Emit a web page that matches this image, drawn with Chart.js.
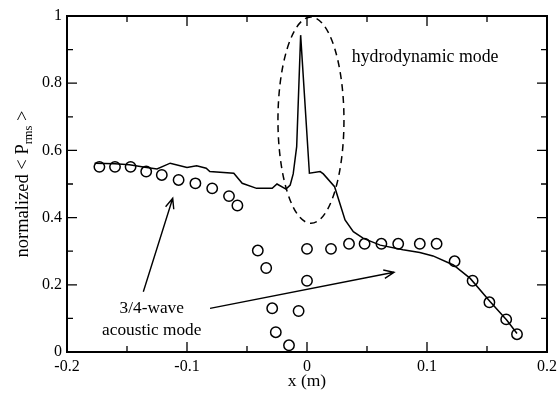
<!DOCTYPE html>
<html>
<head>
<meta charset="utf-8">
<script src="https://cdn.jsdelivr.net/npm/chart.js@4"></script>
<style>
html,body{margin:0;padding:0;background:#fff;}
#wrap{width:557px;height:393px;}
</style>
</head>
<body>
<div id="wrap"><canvas id="c" width="557" height="393"></canvas></div>
<script>
// ---- data ----
const circleX = [-0.173,-0.160,-0.147,-0.134,-0.121,-0.107,-0.093,-0.079,-0.065,-0.058,-0.041,-0.034,-0.029,-0.026,-0.015,-0.007,0.000,0.000,0.020,0.035,0.048,0.062,0.076,0.094,0.108,0.123,0.138,0.152,0.166,0.175];
const circleY = [0.551,0.551,0.551,0.537,0.527,0.512,0.502,0.487,0.464,0.436,0.302,0.250,0.130,0.059,0.020,0.122,0.212,0.307,0.307,0.322,0.322,0.322,0.322,0.322,0.322,0.270,0.212,0.148,0.097,0.053];
const lineX = [-0.177,-0.160,-0.148,-0.135,-0.125,-0.114,-0.100,-0.092,-0.084,-0.081,-0.061,-0.054,-0.042,-0.029,-0.025,-0.0175,-0.014,-0.0115,-0.0086,-0.0053,0.002,0.011,0.0136,0.023,0.0317,0.0386,0.047,0.061,0.080,0.094,0.105,0.122,0.136,0.1525,0.1664,0.175];
const lineY = [0.562,0.560,0.557,0.550,0.545,0.562,0.549,0.554,0.547,0.537,0.532,0.502,0.487,0.487,0.500,0.485,0.497,0.530,0.611,0.943,0.532,0.537,0.530,0.492,0.393,0.358,0.338,0.318,0.304,0.296,0.286,0.259,0.219,0.150,0.095,0.055];
const xTickLabels = {"-0.2":"-0.2","-0.1":"-0.1","0":"0","0.1":"0.1","0.2":"0.2"};
const yTickLabels = {"0":"0","0.2":"0.2","0.4":"0.4","0.6":"0.6","0.8":"0.8","1":"1"};
const xTitle = "x (m)";
const yTitleMain = "normalized < P";
const yTitleSub = "rms";
const yTitleEnd = " >";
const hydroLabel = "hydrodynamic mode";
const acousticLabel = ["3/4-wave", "acoustic mode"];

// annotation geometry (in data units)
const ellipseSpec = {cx: 0.0033, cy: 0.69, rx: 0.0275, ry: 0.307};
const arrowSpecs = [
  {x0: -0.1364, y0: 0.1795, x1: -0.1119, y1: 0.4574},
  {x0: -0.0808, y0: 0.1298, x1: 0.0725, y1: 0.2372}
];
const hydroPos = {x: 0.0373, y: 0.878};
const acousticPos = {x: -0.1294, y: [0.131, 0.0655]};

const SERIF = '"Liberation Serif", "DejaVu Serif", serif';

const toPts = (xs, ys) => xs.map((x, i) => ({x: x, y: ys[i]}));

const keyOf = v => String(Math.round(v * 100) / 100);

const decor = {
  id: 'decor',
  afterDraw(chart) {
    const ctx = chart.ctx;
    const a = chart.chartArea;
    const sx = chart.scales.x, sy = chart.scales.y;
    ctx.save();
    ctx.strokeStyle = '#000';
    ctx.fillStyle = '#000';
    // frame
    ctx.lineWidth = 2;
    ctx.strokeRect(a.left, a.top, a.right - a.left, a.bottom - a.top);
    // inward ticks on all four sides
    ctx.lineWidth = 1.3;
    sx.ticks.forEach(t => {
      const px = sx.getPixelForValue(t.value);
      const major = xTickLabels[keyOf(t.value)] !== undefined;
      const len = major ? 10 : 6;
      ctx.beginPath();
      ctx.moveTo(px, a.bottom); ctx.lineTo(px, a.bottom - len);
      ctx.moveTo(px, a.top); ctx.lineTo(px, a.top + len);
      ctx.stroke();
    });
    sy.ticks.forEach(t => {
      const py = sy.getPixelForValue(t.value);
      const major = yTickLabels[keyOf(t.value)] !== undefined;
      const len = major ? 10 : 6;
      ctx.beginPath();
      ctx.moveTo(a.left, py); ctx.lineTo(a.left + len, py);
      ctx.moveTo(a.right, py); ctx.lineTo(a.right - len, py);
      ctx.stroke();
    });
    // dashed ellipse
    const ecx = sx.getPixelForValue(ellipseSpec.cx);
    const ecy = sy.getPixelForValue(ellipseSpec.cy);
    const erx = Math.abs(sx.getPixelForValue(ellipseSpec.cx + ellipseSpec.rx) - ecx);
    const ery = Math.abs(sy.getPixelForValue(ellipseSpec.cy + ellipseSpec.ry) - ecy);
    ctx.lineWidth = 1.5;
    ctx.setLineDash([7, 5]);
    ctx.beginPath();
    ctx.ellipse(ecx, ecy, erx, ery, 0, 0, Math.PI * 2);
    ctx.stroke();
    ctx.setLineDash([]);
    // arrows
    ctx.lineWidth = 1.4;
    arrowSpecs.forEach(s => {
      const x0 = sx.getPixelForValue(s.x0), y0 = sy.getPixelForValue(s.y0);
      const x1 = sx.getPixelForValue(s.x1), y1 = sy.getPixelForValue(s.y1);
      const ang = Math.atan2(y1 - y0, x1 - x0);
      const h = 11, sp = 0.4;
      ctx.beginPath();
      ctx.moveTo(x0, y0); ctx.lineTo(x1, y1);
      ctx.moveTo(x1 - h * Math.cos(ang - sp), y1 - h * Math.sin(ang - sp));
      ctx.lineTo(x1, y1);
      ctx.lineTo(x1 - h * Math.cos(ang + sp), y1 - h * Math.sin(ang + sp));
      ctx.stroke();
    });
    // annotation texts
    ctx.font = '17.8px ' + SERIF;
    ctx.textBaseline = 'middle';
    ctx.textAlign = 'left';
    ctx.fillText(hydroLabel, sx.getPixelForValue(hydroPos.x), sy.getPixelForValue(hydroPos.y));
    ctx.font = '17.3px ' + SERIF;
    ctx.textAlign = 'center';
    acousticLabel.forEach((t, i) => {
      ctx.fillText(t, sx.getPixelForValue(acousticPos.x), sy.getPixelForValue(acousticPos.y[i]));
    });
    // x title
    ctx.font = '17.5px ' + SERIF;
    ctx.fillText(xTitle, (a.left + a.right) / 2, 381);
    // y title with subscript
    const fMain = '18.5px ' + SERIF, fSub = '12.5px ' + SERIF;
    ctx.font = fMain;
    const w1 = ctx.measureText(yTitleMain).width;
    const w3 = ctx.measureText(yTitleEnd).width;
    ctx.font = fSub;
    const w2 = ctx.measureText(yTitleSub).width;
    const total = w1 + w2 + w3;
    ctx.translate(22, (a.top + a.bottom) / 2);
    ctx.rotate(-Math.PI / 2);
    ctx.textAlign = 'left';
    ctx.textBaseline = 'alphabetic';
    let cx = -total / 2;
    ctx.font = fMain; ctx.fillText(yTitleMain, cx, 6); cx += w1;
    ctx.font = fSub; ctx.fillText(yTitleSub, cx, 10); cx += w2;
    ctx.font = fMain; ctx.fillText(yTitleEnd, cx, 6);
    ctx.restore();
  }
};

new Chart(document.getElementById('c'), {
  type: 'scatter',
  data: {
    datasets: [
      {
        data: toPts(lineX, lineY),
        showLine: true,
        borderColor: '#000',
        borderWidth: 1.5,
        pointRadius: 0,
        fill: false,
        tension: 0
      },
      {
        data: toPts(circleX, circleY),
        showLine: false,
        borderColor: '#000',
        backgroundColor: 'rgba(0,0,0,0)',
        borderWidth: 1.5,
        pointRadius: 5.2,
        pointStyle: 'circle'
      }
    ]
  },
  options: {
    responsive: false,
    animation: false,
    devicePixelRatio: 1,
    layout: {padding: {left: 0, right: 10, top: 16, bottom: 0}},
    plugins: {legend: {display: false}, tooltip: {enabled: false}},
    scales: {
      x: {
        type: 'linear', min: -0.2, max: 0.2,
        border: {display: false},
        grid: {display: false, drawTicks: false},
        ticks: {
          stepSize: 0.05, autoSkip: false, maxRotation: 0, padding: 5,
          color: '#000', font: {family: SERIF, size: 16},
          callback: v => xTickLabels[keyOf(v)] || ''
        },
        afterFit: s => { s.height = 41; s.paddingLeft = 0; s.paddingRight = 0; }
      },
      y: {
        type: 'linear', min: 0, max: 1,
        border: {display: false},
        grid: {display: false, drawTicks: false},
        ticks: {
          stepSize: 0.1, autoSkip: false, padding: 5,
          color: '#000', font: {family: SERIF, size: 16},
          callback: v => yTickLabels[keyOf(v)] || ''
        },
        afterFit: s => { s.width = 67; s.paddingTop = 0; s.paddingBottom = 0; }
      }
    }
  },
  plugins: [decor]
});
</script>
</body>
</html>
